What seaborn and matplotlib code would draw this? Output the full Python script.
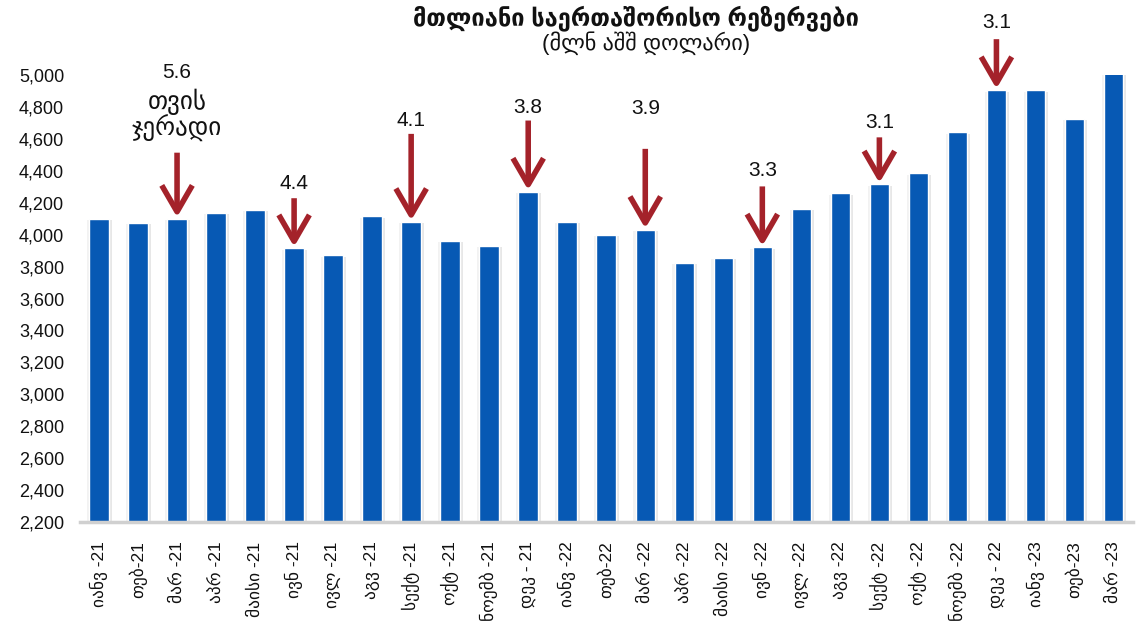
import matplotlib
matplotlib.use('Agg')
import matplotlib.pyplot as plt
import matplotlib.patheffects as pe
from matplotlib.ticker import FuncFormatter
import seaborn as sns
import pandas as pd

# ---- data ----
months = ['იანვ -21', 'თებ-21', 'მარ -21', 'აპრ -21', 'მაისი -21', 'ივნ -21',
          'ივლ -21', 'აგვ -21', 'სექტ -21', 'ოქტ -21', 'ნოემბ -21', 'დეკ - 21',
          'იანვ -22', 'თებ-22', 'მარ -22', 'აპრ -22', 'მაისი -22', 'ივნ -22',
          'ივლ -22', 'აგვ -22', 'სექტ -22', 'ოქტ -22', 'ნოემბ -22', 'დეკ - 22',
          'იანვ -23', 'თებ-23', 'მარ -23']
reserves = [4100, 4075, 4100, 4135, 4155, 3915, 3870, 4115, 4080, 3960, 3930, 4270,
            4080, 4000, 4030, 3825, 3855, 3920, 4160, 4260, 4315, 4385, 4640, 4905,
            4905, 4725, 5010]
ann_index = [2, 5, 8, 11, 14, 17, 20, 23]
ann_text = ['5.6', '4.4', '4.1', '3.8', '3.9', '3.3', '3.1', '3.1']
arrow_len_px = [66, 50, 88, 71, 81, 61, 47, 51]
label_gap_px = [75, 9, 8, 8, 35, 10, 9, 11]
note_index = 2
note_text = 'თვის\nჯერადი'
note_gap_px = 17

title = 'მთლიანი საერთაშორისო რეზერვები'
subtitle = '(მლნ აშშ დოლარი)'

BAR = '#0759b4'
ARROW = '#a4222a'

sns.set_theme(style='white')
plt.rcParams['font.family'] = ['Liberation Sans', 'DejaVu Sans']

W, H = 1143, 627
fig = plt.figure(figsize=(W / 100, H / 100), dpi=100)
ax = fig.add_axes([79.5 / W, (H - 522) / H, (1133 - 79.5) / W, 447 / H])

df = pd.DataFrame({'month': months, 'value': reserves})
sns.barplot(data=df, x='month', y='value', color=BAR, saturation=1, width=0.5, ax=ax)
for p in ax.patches:
    p.set_path_effects([pe.SimplePatchShadow(offset=(2, -1), shadow_rgbFace='#a0a0a0', alpha=0.25),
                        pe.SimplePatchShadow(offset=(-1.5, -1), shadow_rgbFace='#c0c0c0', alpha=0.2),
                        pe.Normal()])

ax.set_ylim(2200, 5000)
ax.set_xlim(-0.5, len(months) - 0.5)
ax.set_yticks(range(2200, 5001, 200))
ax.yaxis.set_major_formatter(FuncFormatter(lambda v, _: f'{v:,.0f}'))
ax.set_xlabel('')
ax.set_ylabel('')
for s in ['top', 'right', 'left']:
    ax.spines[s].set_visible(False)
ax.spines['bottom'].set_color('#d0d0d0')
ax.spines['bottom'].set_linewidth(2.5)
ax.tick_params(axis='y', length=0, pad=11, labelsize=13, labelcolor='#111111')
ax.tick_params(axis='x', length=0, pad=14, labelsize=12.5, labelcolor='#111111')
for lbl in ax.get_xticklabels():
    lbl.set_rotation(90)
    lbl.set_va('top')
    lbl.set_ha('center')

for i, txt, L, g in zip(ann_index, ann_text, arrow_len_px, label_gap_px):
    v = min(reserves[i], 5000)
    ax.annotate('', xy=(i, v), xytext=(0, L), textcoords='offset pixels',
                arrowprops=dict(arrowstyle='->,head_length=0.95,head_width=0.55',
                                color=ARROW, lw=4, mutation_scale=20,
                                shrinkA=0, shrinkB=1, capstyle='butt'),
                annotation_clip=False)
    ax.annotate(txt, xy=(i, v), xytext=(0, L + g), textcoords='offset pixels',
                ha='center', va='baseline', fontsize=15, color='#111111',
                annotation_clip=False)
    if i == note_index:
        ax.annotate(note_text, xy=(i, v), xytext=(0, L + note_gap_px),
                    textcoords='offset pixels', ha='center', va='baseline',
                    fontsize=18, color='#111111', linespacing=1.0,
                    annotation_clip=False)

fig.text(636 / W, 1 - 18 / H, title, ha='center', va='center', fontsize=17,
         fontweight='bold', color='#111111')
fig.text(646 / W, 1 - 43 / H, subtitle, ha='center', va='center', fontsize=16,
         color='#111111')

fig.savefig('out.png', dpi=100)
